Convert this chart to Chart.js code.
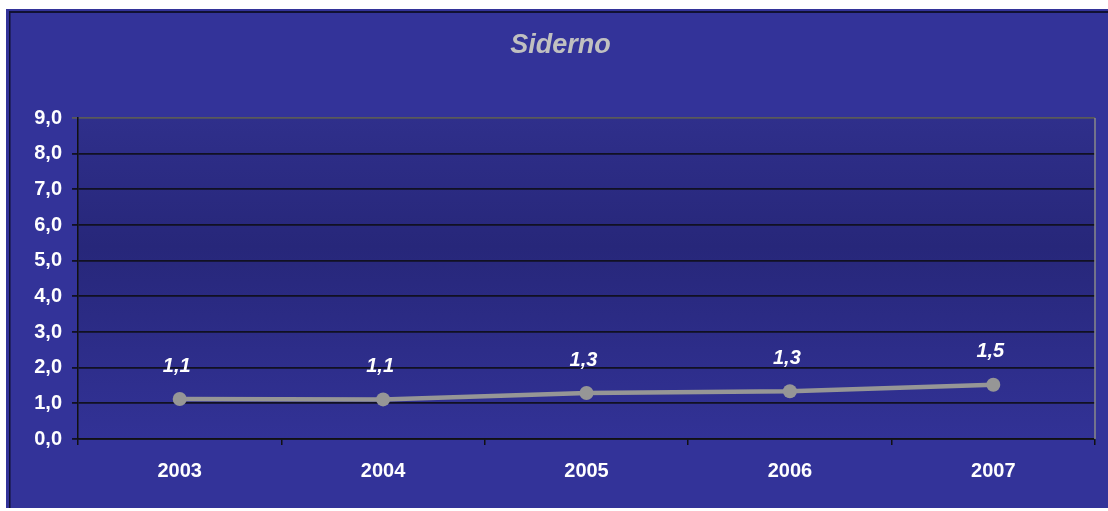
<!DOCTYPE html>
<html>
<head>
<meta charset="utf-8">
<script src="https://cdn.jsdelivr.net/npm/chart.js@4.4.1/dist/chart.umd.min.js"></script>
<style>
  html, body { margin: 0; padding: 0; background: #ffffff; }
  #wrap { width: 1108px; height: 511px; position: relative; }
</style>
</head>
<body>
<div id="wrap"><canvas id="lineChart" width="1108" height="511"></canvas></div>
<script>
const years = ['2003', '2004', '2005', '2006', '2007'];
const values = [1.12, 1.11, 1.29, 1.34, 1.52];
const yTicks = [0, 1, 2, 3, 4, 5, 6, 7, 8, 9];
const chartTitle = 'Siderno';

function fmt(v) {
    return v.toFixed(1).replace('.', ',');
}

// blue frame + darker plot area
const backdrop = {
    id: 'backdrop',
    beforeDraw(chart) {
        const ctx = chart.ctx;
        const a = chart.chartArea;
        ctx.save();
        ctx.fillStyle = '#ffffff';
        ctx.fillRect(0, 0, chart.width, chart.height);
        ctx.fillStyle = '#333399';
        ctx.fillRect(6, 9, chart.width - 6, chart.height - 12);
        ctx.fillStyle = '#111133';
        ctx.fillRect(9, 11, chart.width - 9, 2);
        ctx.fillRect(9, 11, 1.5, chart.height - 14);
        const g = ctx.createLinearGradient(0, a.top, 0, a.bottom);
        g.addColorStop(0, '#2f2f8b');
        g.addColorStop(0.4, '#27277a');
        g.addColorStop(1, '#323296');
        ctx.fillStyle = g;
        ctx.fillRect(a.left, a.top, a.right - a.left, a.bottom - a.top);
        ctx.restore();
    },
    afterDraw(chart) {
        const ctx = chart.ctx;
        const a = chart.chartArea;
        ctx.save();
        ctx.strokeStyle = '#8a8a8a';
        ctx.lineWidth = 1.5;
        ctx.beginPath();
        ctx.moveTo(a.right, a.top);
        ctx.lineTo(a.right, a.bottom);
        ctx.stroke();
        ctx.restore();
    }
};

// value labels above points
const valueLabels = {
    id: 'valueLabels',
    afterDatasetsDraw(chart) {
        const ctx = chart.ctx;
        const meta = chart.getDatasetMeta(0);
        ctx.save();
        ctx.font = 'italic bold 20px "Liberation Sans", Arial, sans-serif';
        ctx.fillStyle = '#ffffff';
        ctx.textAlign = 'center';
        ctx.textBaseline = 'middle';
        meta.data.forEach((pt, i) => {
            ctx.fillText(fmt(values[i]), pt.x - 3, pt.y - 33);
        });
        ctx.restore();
    }
};

const ctx = document.getElementById('lineChart').getContext('2d');
const myChart = new Chart(ctx, {
    type: 'line',
    data: {
        labels: years,
        datasets: [{
            data: values,
            borderColor: '#969696',
            backgroundColor: '#969696',
            borderWidth: 4.5,
            pointRadius: 7,
            pointBorderWidth: 0,
            pointBackgroundColor: '#969696',
            tension: 0
        }]
    },
    options: {
        responsive: false,
        animation: false,
        devicePixelRatio: 1,
        layout: { padding: { left: 26, right: 13, top: 0, bottom: 0 } },
        scales: {
            x: {
                offset: true,
                grid: {
                    offset: true,
                    drawOnChartArea: false,
                    drawTicks: true,
                    tickLength: 6,
                    color: '#111111',
                    lineWidth: 1.5
                },
                border: { color: '#111111', width: 1.5 },
                ticks: {
                    color: '#ffffff',
                    padding: 14,
                    font: { family: '"Liberation Sans", Arial, sans-serif', size: 20, weight: 'bold' }
                },
                afterFit(scale) { scale.height = 72; }
            },
            y: {
                min: 0,
                max: 9,
                afterBuildTicks(scale) {
                    scale.ticks = yTicks.map(v => ({ value: v }));
                },
                grid: {
                    tickLength: 6,
                    lineWidth: 1.8,
                    color: c => (c.tick && c.tick.value === 9) ? '#5a5a5a' : '#111122'
                },
                border: { color: '#111111', width: 1.5 },
                ticks: {
                    color: '#ffffff',
                    padding: 10,
                    font: { family: '"Liberation Sans", Arial, sans-serif', size: 20, weight: 'bold' },
                    callback: v => fmt(v)
                },
                afterFit(scale) { scale.width = 52; }
            }
        },
        plugins: {
            legend: { display: false },
            tooltip: { enabled: false },
            title: {
                display: true,
                text: chartTitle,
                color: '#c0c0c0',
                font: { family: '"Liberation Sans", Arial, sans-serif', size: 27, weight: 'bold', style: 'italic' },
                padding: { top: 29, bottom: 56.6 }
            }
        }
    },
    plugins: [backdrop, valueLabels]
});
</script>
</body>
</html>
